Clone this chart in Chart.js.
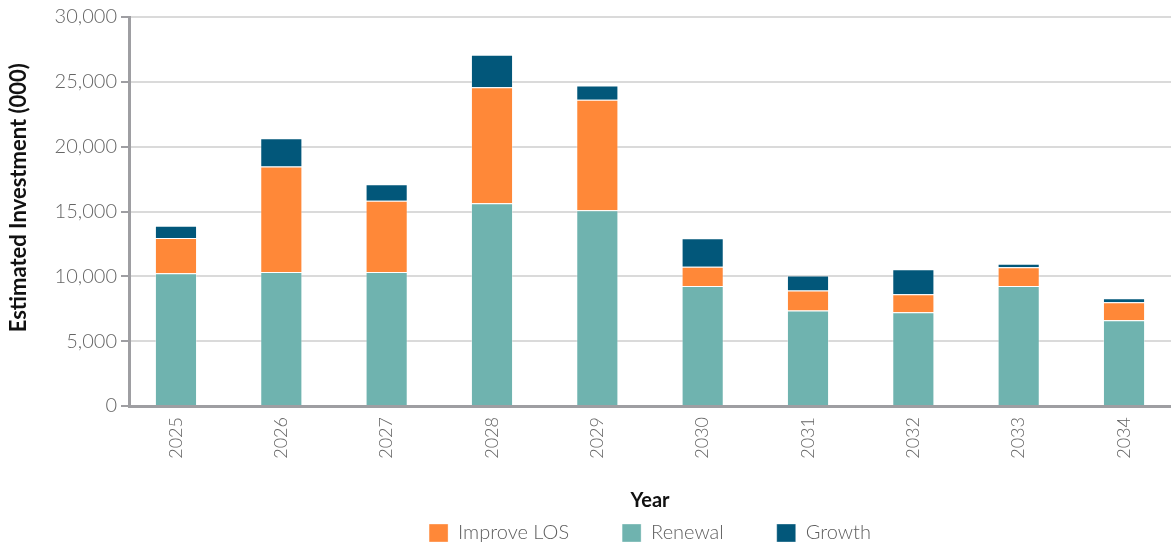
<!DOCTYPE html>
<html>
<head>
<meta charset="utf-8">
<script src="https://cdn.jsdelivr.net/npm/chart.js@4.4.1/dist/chart.umd.min.js"></script>
<style>
  html, body { margin: 0; padding: 0; background: #fff; }
  #wrap { width: 1171px; height: 546px; }
</style>
</head>
<body>
<div id="wrap"><canvas id="investChart" width="1171" height="546"></canvas></div>
<script>
// años y series (valores en miles)
var years = ['2025', '2026', '2027', '2028', '2029', '2030', '2031', '2032', '2033', '2034'];
var renewal = [10230, 10340, 10340, 15640, 15100, 9260, 7360, 7230, 9260, 6610];
var improveLos = [2720, 8130, 5480, 8950, 8510, 1470, 1540, 1390, 1440, 1390];
var growth = [950, 2180, 1280, 2490, 1110, 2210, 1160, 1930, 280, 310];
var yTicks = [0, 5000, 10000, 15000, 20000, 25000, 30000];
var legendOrder = ['Improve LOS', 'Renewal', 'Growth'];

var FONT = 'Lato, "Open Sans", sans-serif';

function toPoints(arr) {
    return arr.map(function(v, i) { return { x: i, y: v }; });
}

document.addEventListener('DOMContentLoaded', function() {
    var ctx = document.getElementById('investChart');

    new Chart(ctx, {
        type: 'bar',
        data: {
            datasets: [
                { label: 'Renewal', data: toPoints(renewal), backgroundColor: '#6fb3af' },
                { label: 'Improve LOS', data: toPoints(improveLos), backgroundColor: '#ff8838' },
                { label: 'Growth', data: toPoints(growth), backgroundColor: '#02577a' }
            ]
        },
        options: {
            responsive: false,
            animation: false,
            datasets: {
                bar: {
                    categoryPercentage: 1,
                    barPercentage: 0.4,
                    borderWidth: 1,
                    borderColor: 'rgba(255,255,255,0.35)'
                }
            },
            layout: { padding: { top: 17, right: 0, bottom: -7, left: 0 } },
            plugins: {
                tooltip: { enabled: false },
                legend: {
                    position: 'bottom',
                    fullSize: false,
                    labels: {
                        boxWidth: 19,
                        boxHeight: 18,
                        padding: 53,
                        color: '#5e5e5e',
                        font: { family: FONT, size: 20, weight: 300 },
                        sort: function(a, b) {
                            return legendOrder.indexOf(a.text) - legendOrder.indexOf(b.text);
                        }
                    }
                }
            },
            scales: {
                x: {
                    type: 'linear',
                    stacked: true,
                    offset: false,
                    min: -0.446,
                    max: 9.446,
                    grid: { display: false },
                    border: { display: true, color: '#9e9ea2', width: 3 },
                    ticks: {
                        stepSize: 1,
                        includeBounds: false,
                        autoSkip: false,
                        minRotation: 90,
                        maxRotation: 90,
                        color: '#666666',
                        font: { family: FONT, size: 18, weight: 300 },
                        callback: function(v) { return years[v] !== undefined ? years[v] : ''; }
                    },
                    title: {
                        display: true,
                        text: 'Year',
                        color: '#111111',
                        font: { family: FONT, size: 20, weight: 'bold' },
                        padding: { top: 0, bottom: -43 }
                    },
                    afterFit: function(scale) { scale.height = 64; }
                },
                y: {
                    stacked: true,
                    min: 0,
                    max: 30000,
                    afterBuildTicks: function(scale) {
                        scale.ticks = yTicks.map(function(v) { return { value: v }; });
                    },
                    grid: {
                        color: '#dadada',
                        lineWidth: 2,
                        tickColor: '#9e9ea2',
                        tickWidth: 2,
                        tickLength: 8
                    },
                    border: { display: true, color: '#9e9ea2', width: 3 },
                    ticks: {
                        padding: 4,
                        color: '#666666',
                        font: { family: FONT, size: 20, weight: 300 },
                        callback: function(v) { return Number(v).toLocaleString('en-US'); }
                    },
                    title: {
                        display: true,
                        text: '\u2003\u2002Estimated Investment (000)',
                        color: '#111111',
                        font: { family: FONT, size: 22, weight: 'bold' },
                        padding: { top: 6, bottom: 0 }
                    },
                    afterFit: function(scale) { scale.width = 129; }
                }
            }
        }
    });
});
</script>
</body>
</html>
